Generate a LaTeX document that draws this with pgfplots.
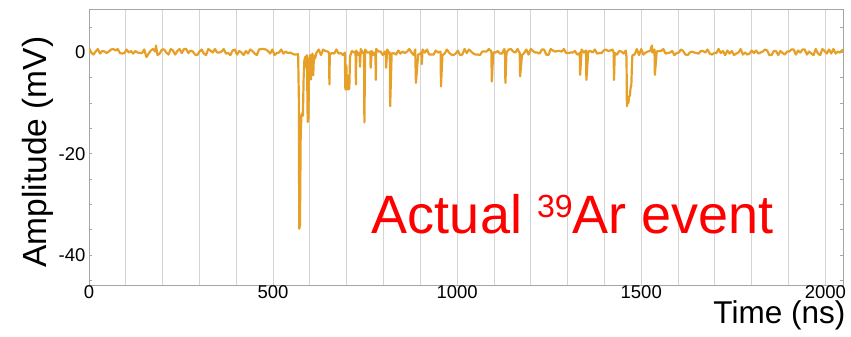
\documentclass[border=0pt]{standalone}
\usepackage{fontspec}
\setmainfont{Liberation Sans}
\usepackage{pgfplots}
\pgfplotsset{compat=1.18}
\usetikzlibrary{calc}
\definecolor{wave}{RGB}{230,160,40}
\definecolor{gridc}{RGB}{212,212,212}
\definecolor{axc}{RGB}{165,165,165}
\begin{document}
\begin{tikzpicture}
\begin{axis}[name=ax,
  scale only axis, width=754bp, height=276bp,
  xmin=0, xmax=2048, ymin=-45.9, ymax=8.6,
  xtick={0,500,1000,1500,2000},
  minor xtick={100,200,...,2000},
  xmajorgrids, xminorgrids,
  major grid style={draw=gridc, line width=0.9bp},
  minor grid style={draw=gridc, line width=0.9bp},
  xtick style={draw=none},
  ytick={-40,-20,0},
  minor ytick={-45,-35,-30,-25,-15,-10,-5,5},
  tick align=inside,
  major tick length=3.3bp, minor tick length=3.3bp,
  ytick style={draw=axc, line width=0.8bp},
  axis line style={draw=axc, line width=0.9bp},
  /pgf/number format/assume math mode=true,
  /pgf/number format/set thousands separator={},
  tick label style={font=\fontsize{18.5bp}{20bp}\selectfont},
  xticklabel style={yshift=3bp},
  clip=true,
]
\addplot[wave, line width=2.2bp, line join=round] coordinates {
(0,0.9) (6,0.0) (12,-0.4) (18,0.2) (24,0.7) (30,-0.2) (36,0.3) (42,0.2) (48,-0.1) (54,0.2)
(60,0.6) (66,0.7) (72,0.4) (78,0.7) (84,-0.1) (90,-0.2) (96,-0.1) (102,0.6) (108,0.0) (114,0.3)
(120,-0.2) (126,0.3) (132,0.0) (138,-0.1) (144,-0.1) (150,0.6) (156,-0.9) (162,-0.2) (168,0.4) (174,0.7)
(180,0.2) (182,1.4) (186,-0.5) (192,-0.2) (198,0.6) (204,0.6) (210,0.0) (216,-0.4) (222,0.7) (228,0.4) (234,-0.4)
(240,0.3) (246,0.7) (252,-0.1) (258,0.7) (264,0.7) (270,-0.1) (276,0.4) (282,0.2) (288,-0.4) (294,-0.5)
(300,0.2) (306,0.6) (312,-0.2) (318,-0.5) (324,0.7) (330,0.4) (336,0.0) (342,0.7) (348,0.0) (354,0.0)
(360,0.2) (366,0.7) (372,-0.2) (378,-0.1) (384,-0.5) (390,0.4) (396,0.6) (402,-0.4) (408,0.3) (414,0.0)
(420,-0.5) (426,0.3) (432,-0.2) (438,0.6) (444,0.3) (450,-0.2) (456,-0.5) (462,0.6) (468,0.7) (474,0.7)
(480,0.6) (486,0.3) (492,-0.2) (498,0.6) (504,-0.5) (510,-0.1) (516,0.0) (522,0.6) (528,-0.2) (534,0.2)
(540,-0.1) (546,0.0) (552,-0.2) (558,-0.4) (564,-0.4) (568,-0.3)
(570,-9) (571,-34.8) (573,-34) (575,-16) (577,-12.5) (579,-12) (581,-12.5) (583,-5) (585,-1.5) (588,-0.8)
(590,-3) (592,-0.5) (594,-13.7) (596,-13) (598,-1.5) (601,-0.5) (603,-5.3) (605,-1) (607,-0.2) (609,-4.5)
(611,-0.6) (614,-1.2)
(618,0.0) (624,0.6) (630,-0.5) (636,0.6) (642,0.3) (648,0.2) (652,0.0) (653,-6.3) (654,-0.4) (660,-0.1)
(666,-0.2) (672,0.6) (678,-0.2) (684,-0.1) (690,-0.5)
(695,0.0) (696,-6.8) (697,-7.3) (699,-2.5) (701,-7.0) (703,-7.3) (705,-4.5) (707,-7.2) (709,-0.8)
(714,0.3) (720,0.0) (724,0.1) (725,-6.3) (726,0.4) (732,-0.5) (735,0.0) (736,-2.8) (738,0.7) (744,-0.1)
(747,0.1) (748,-13.8) (750,0.6) (756,0.0) (762,0.0) (764,0.2) (765,-3.0) (768,0.3) (774,-0.5) (778,0.1)
(779,-5.4) (780,0.7) (786,0.2) (792,0.2) (798,-0.5) (804,0.2) (806,0.0) (807,-3.0) (810,0.6) (816,-0.2)
(817,0.0) (818,-10.6) (822,-0.2) (828,-0.1) (834,-0.4) (840,0.4) (846,-0.2) (852,0.2) (858,-0.1) (864,0.2)
(870,0.7) (876,0.0) (882,-0.5) (886,0.6) (888,-6.0) (894,-0.4) (900,-0.2) (903,0.1) (904,-2.3) (906,0.6)
(912,0.0) (918,0.6) (924,-0.4) (930,-0.4) (936,-0.4) (942,0.4) (948,0.0) (954,0.2) (955,0.1) (956,-6.7)
(960,-0.5) (966,-0.2) (972,0.6) (978,0.0) (984,-0.4) (990,-0.5) (996,-0.2) (1002,0.4) (1008,-0.5) (1014,-0.4)
(1020,0.7) (1026,-0.1) (1032,0.6) (1038,0.2) (1044,-0.2) (1050,-0.4) (1056,-0.4) (1062,-0.5) (1068,0.2) (1074,0.2)
(1080,0.2) (1086,0.7) (1092,0.3) (1093,0.0) (1094,-5.7) (1098,0.0) (1104,0.0) (1110,0.3) (1116,-0.2) (1122,-0.2)
(1128,0.7) (1130,0.0) (1131,-6.0) (1134,0.0) (1140,0.6) (1146,0.7) (1152,0.2) (1158,0.0) (1164,0.7) (1170,-0.1)
(1171,-4.7) (1176,-0.5) (1182,-0.1) (1188,0.6) (1194,-0.4) (1200,0.7) (1206,0.3) (1212,0.0) (1218,0.0) (1224,-0.2)
(1230,0.6) (1236,0.6) (1242,-0.4) (1248,-0.5) (1254,0.7) (1260,0.4) (1266,0.2) (1272,0.3) (1278,0.3) (1284,0.2)
(1290,0.7) (1296,-0.1) (1302,-0.1) (1308,0.0) (1314,0.0) (1320,0.3) (1326,-0.4) (1332,-0.2) (1333,0.0) (1334,-4.4)
(1338,0.6) (1344,0.0) (1350,0.4) (1351,-5.4) (1356,0.2) (1362,0.3) (1368,0.0) (1374,0.6) (1380,-0.2) (1386,-0.1)
(1392,-0.1) (1398,0.4) (1404,0.6) (1410,0.3) (1416,0.4) (1422,0.6) (1425,0.0) (1426,-5.4) (1428,-0.1) (1434,-0.4)
(1440,0.3) (1446,0.2) (1452,-0.2) (1458,0.4)
(1460,-1.0) (1461,-10.6) (1463,-9.0) (1465,-10.0) (1467,-8.6) (1469,-8.6) (1471,-7.0) (1473,-6.5) (1475,-2.0)
(1476,-0.5) (1482,-0.4) (1488,0.7) (1494,-0.5) (1500,0.7) (1506,-0.4) (1512,0.0) (1518,0.2) (1524,0.3) (1529,1.4)
(1530,0.0) (1536,0.6) (1537,-4.4) (1542,0.2) (1548,0.3) (1554,0.3) (1560,0.7) (1566,-0.2) (1572,-0.1) (1578,0.0)
(1584,0.3) (1590,-0.5) (1596,-0.1) (1602,0.0) (1608,0.6) (1614,0.3) (1620,-0.4) (1626,-0.5) (1632,0.0) (1638,0.2)
(1644,0.0) (1650,-0.1) (1656,-0.2) (1662,0.3) (1668,0.3) (1674,0.0) (1680,0.6) (1686,-0.2) (1692,-0.4) (1698,-0.1)
(1704,-0.1) (1710,0.7) (1716,-0.1) (1722,0.3) (1728,-0.5) (1734,0.4) (1740,-0.2) (1746,0.3) (1752,-0.5) (1758,-0.2)
(1764,0.0) (1770,0.7) (1776,-0.4) (1782,0.0) (1788,-0.4) (1794,-0.2) (1800,0.4) (1806,-0.1) (1812,0.4) (1818,-0.2)
(1824,0.0) (1830,0.2) (1836,0.6) (1842,0.4) (1848,-0.5) (1854,-0.5) (1860,0.3) (1866,0.3) (1872,-0.5) (1878,0.3)
(1884,-0.1) (1890,-0.4) (1896,0.2) (1902,0.2) (1908,0.6) (1914,0.6) (1920,-0.4) (1926,0.4) (1932,0.0) (1938,0.6)
(1944,0.6) (1950,-0.4) (1956,0.2) (1962,-0.2) (1968,-0.5) (1974,0.7) (1980,-0.2) (1986,-0.5) (1992,0.7) (1998,0.3)
(2004,-0.2) (2010,0.6) (2016,-0.2) (2022,0.7) (2028,-0.2) (2034,0.2) (2040,0.0) (2046,0.5) (2048,0.2)
};
\node[anchor=base west, inner sep=0, text=red, font=\fontsize{54bp}{60bp}\selectfont]
  at (axis cs:768,-35.65) {Actual \raisebox{16bp}{\fontsize{32bp}{34bp}\selectfont 39}Ar event};
\end{axis}
\node[anchor=base east, inner sep=0, font=\fontsize{31.5bp}{34bp}\selectfont]
  at ($(ax.south east)+(2.5bp,-38bp)$) {Time (ns)};
\node[anchor=base, rotate=90, inner sep=0, font=\fontsize{33.5bp}{36bp}\selectfont]
  at ($(ax.west)+(-42bp,-5bp)$) {Amplitude (mV)};
\pgfresetboundingbox
\path[use as bounding box] ($(ax.south west)+(-89bp,-52bp)$) rectangle ($(ax.north east)+(8bp,9bp)$);
\end{tikzpicture}
\end{document}
